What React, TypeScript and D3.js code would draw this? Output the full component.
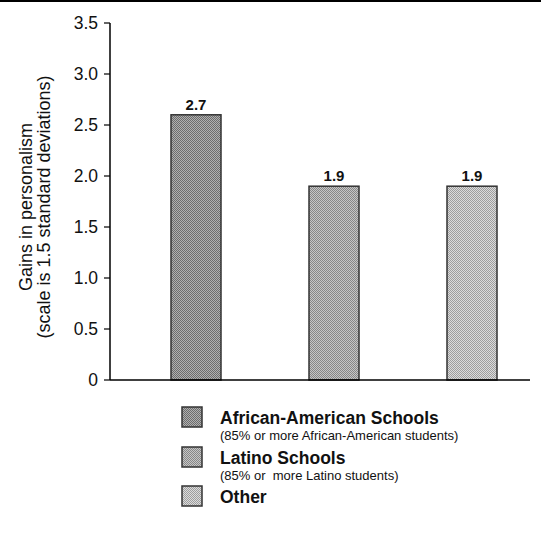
import React from "react";
import * as d3 from "d3";

const categories = ["African-American Schools", "Latino Schools", "Other"];
const barHeights = [2.6, 1.9, 1.9];
const barLabels = ["2.7", "1.9", "1.9"];
const yTicks = [0, 0.5, 1.0, 1.5, 2.0, 2.5, 3.0, 3.5];
const yTickLabels = ["0", "0.5", "1.0", "1.5", "2.0", "2.5", "3.0", "3.5"];
const legendTitles = ["African-American Schools", "Latino Schools", "Other"];
const legendSubtitles = ["(85% or more African-American students)", "(85% or  more Latino students)", ""];
const darkShades = ["#6c6c6c", "#878787", "#9e9e9e"];
const lightShades = ["#b0b0b0", "#c6c6c6", "#dcdcdc"];

const W = 541;
const H = 538;
const FONT = "'Liberation Sans', Arial, sans-serif";

export default function App() {
  const y = d3.scaleLinear().domain([0, 3.5]).range([380, 23]);
  const x = d3.scalePoint<string>().domain(categories).range([196, 472]);
  const bw = 50;
  const axisX = 110;
  const legendY = [407, 447, 486];

  return (
    <svg
      width={W}
      height={H}
      style={{ position: "absolute", left: 0, top: 0, display: "block", background: "#fff" }}
      fontFamily={FONT}
    >
      <defs>
        {categories.map((c, i) => (
          <pattern key={c} id={`pat${i}`} width={2} height={2} patternUnits="userSpaceOnUse">
            <rect width={2} height={2} fill={lightShades[i]} />
            <rect width={1} height={1} fill={darkShades[i]} />
            <rect x={1} y={1} width={1} height={1} fill={darkShades[i]} />
          </pattern>
        ))}
      </defs>
      <rect x={0} y={0} width={W} height={2} fill="#000" />

      {/* y axis */}
      <line x1={axisX} x2={axisX} y1={y(3.5)} y2={y(0)} stroke="#000" strokeWidth={1.5} />
      {yTicks.map((t, i) => (
        <g key={t}>
          <line x1={axisX - 6} x2={axisX} y1={y(t)} y2={y(t)} stroke="#000" strokeWidth={1.2} />
          <text x={98} y={y(t)} dy="0.36em" textAnchor="end" fontSize={17.5} fill="#111">
            {yTickLabels[i]}
          </text>
        </g>
      ))}
      <g transform={`translate(35, 207) rotate(-90)`}>
        <text x={0} y={-3} textAnchor="middle" fontSize={18} fill="#111">
          Gains in personalism
        </text>
        <text x={0} y={15} textAnchor="middle" fontSize={18} fill="#111">
          (scale is 1.5 standard deviations)
        </text>
      </g>

      {/* bars */}
      {categories.map((c, i) => (
        <g key={c}>
          <rect
            x={(x(c) as number) - bw / 2}
            y={y(barHeights[i])}
            width={bw}
            height={y(0) - y(barHeights[i])}
            fill={`url(#pat${i})`}
            stroke="#333"
            strokeWidth={1.5}
          />
          <text
            x={x(c) as number}
            y={y(barHeights[i]) - 5}
            textAnchor="middle"
            fontSize={15}
            fontWeight="bold"
            fill="#111"
          >
            {barLabels[i]}
          </text>
        </g>
      ))}

      {/* x axis */}
      <line x1={axisX} x2={530} y1={y(0)} y2={y(0)} stroke="#000" strokeWidth={1.5} />

      {/* legend */}
      {legendTitles.map((t, i) => (
        <g key={t}>
          <rect x={182} y={legendY[i]} width={20} height={20} fill={`url(#pat${i})`} stroke="#333" strokeWidth={1.5} />
          <text x={220} y={legendY[i] + 17} fontSize={17.5} fontWeight="bold" fill="#111">
            {t}
          </text>
          {legendSubtitles[i] && (
            <text x={220} y={legendY[i] + 33} fontSize={13} fill="#111" style={{ whiteSpace: "pre" }}>
              {legendSubtitles[i]}
            </text>
          )}
        </g>
      ))}
    </svg>
  );
}
